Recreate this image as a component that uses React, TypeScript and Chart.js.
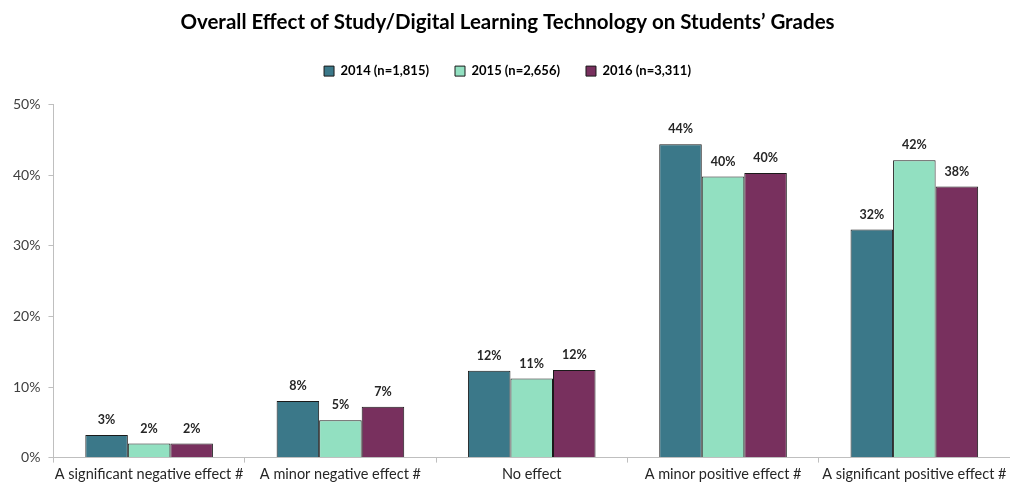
import React, { useEffect, useRef } from "react";
import { Chart, registerables } from "chart.js";

Chart.register(...registerables);

const categories = [
  "A significant negative effect #",
  "A minor negative effect #",
  "No effect",
  "A minor positive effect #",
  "A significant positive effect #",
];
const seriesLabels = ["2014 (n=1,815)", "2015 (n=2,656)", "2016 (n=3,311)"];
const values2014 = [3.2, 8.0, 12.3, 44.4, 32.3];
const values2015 = [2.0, 5.3, 11.2, 39.8, 42.1];
const values2016 = [2.0, 7.2, 12.4, 40.3, 38.4];
const yTicks = [0, 10, 20, 30, 40, 50];
const colors = ["#3b7889", "#92e0c1", "#78305e"];

const FONT = "Lato, 'Open Sans', sans-serif";

const dataLabelPlugin = {
  id: "dataLabels",
  afterDatasetsDraw(chart: any) {
    const ctx = chart.ctx;
    ctx.save();
    ctx.font = `bold 12.5px ${FONT}`;
    ctx.fillStyle = "#262626";
    ctx.textAlign = "center";
    ctx.textBaseline = "middle";
    chart.data.datasets.forEach((ds: any, di: number) => {
      const meta = chart.getDatasetMeta(di);
      meta.data.forEach((bar: any, i: number) => {
        const v = ds.data[i];
        ctx.fillText(Math.round(v) + "%", bar.x, bar.y - 15);
      });
    });
    ctx.restore();
  },
};

const legendSpacing = {
  id: "legendSpacing",
  beforeInit(chart: any) {
    const fit = chart.legend.fit;
    chart.legend.fit = function () {
      fit.bind(chart.legend)();
      this.height += 17;
    };
  },
};

export default function App() {
  const ref = useRef<HTMLCanvasElement | null>(null);
  useEffect(() => {
    document.body.style.margin = "0";
    const chart = new Chart(ref.current!, {
      type: "bar",
      data: {
        labels: categories,
        datasets: [values2014, values2015, values2016].map((d, i) => ({
          label: seriesLabels[i],
          data: d,
          backgroundColor: colors[i],
          borderColor: "#1a1a1a",
          borderWidth: 1,
          categoryPercentage: 0.667,
          barPercentage: 1.0,
        })),
      },
      options: {
        animation: false,
        responsive: false,
        maintainAspectRatio: false,
        layout: { padding: { left: 5, right: 0, top: 0, bottom: 0 } },
        plugins: {
          title: {
            display: true,
            text: "Overall Effect of Study/Digital Learning Technology on Students’ Grades",
            color: "#000",
            font: { family: FONT, size: 20.5, weight: "bold" },
            padding: { top: 10, bottom: 4 },
          },
          legend: {
            display: true,
            labels: {
              color: "#000",
              boxWidth: 10,
              boxHeight: 10,
              padding: 26,
              font: { family: FONT, size: 13, weight: "bold" },
            },
          },
          tooltip: { enabled: false },
        },
        scales: {
          x: {
            grid: {
              display: true,
              drawOnChartArea: false,
              drawTicks: true,
              tickLength: 5,
              color: "#bfbfbf",
            },
            border: { color: "#bfbfbf" },
            ticks: {
              color: "#262626",
              font: { family: FONT, size: 14.5 },
              maxRotation: 0,
              autoSkip: false,
              padding: 3,
            },
          },
          y: {
            min: 0,
            max: 50,
            afterBuildTicks: (axis: any) => {
              axis.ticks = yTicks.map((v) => ({ value: v }));
            },
            grid: {
              display: true,
              drawOnChartArea: false,
              drawTicks: true,
              tickLength: 5,
              color: "#bfbfbf",
            },
            border: { color: "#bfbfbf" },
            ticks: {
              color: "#404040",
              font: { family: FONT, size: 14 },
              padding: 8,
              callback: (v: any) => v + "%",
            },
          },
        },
      },
      plugins: [dataLabelPlugin, legendSpacing],
    });
    return () => chart.destroy();
  }, []);
  return (
    <div style={{ position: "absolute", left: 0, top: 0, width: 1010, height: 486 }}>
      <canvas ref={ref} width={1010} height={486} />
    </div>
  );
}
